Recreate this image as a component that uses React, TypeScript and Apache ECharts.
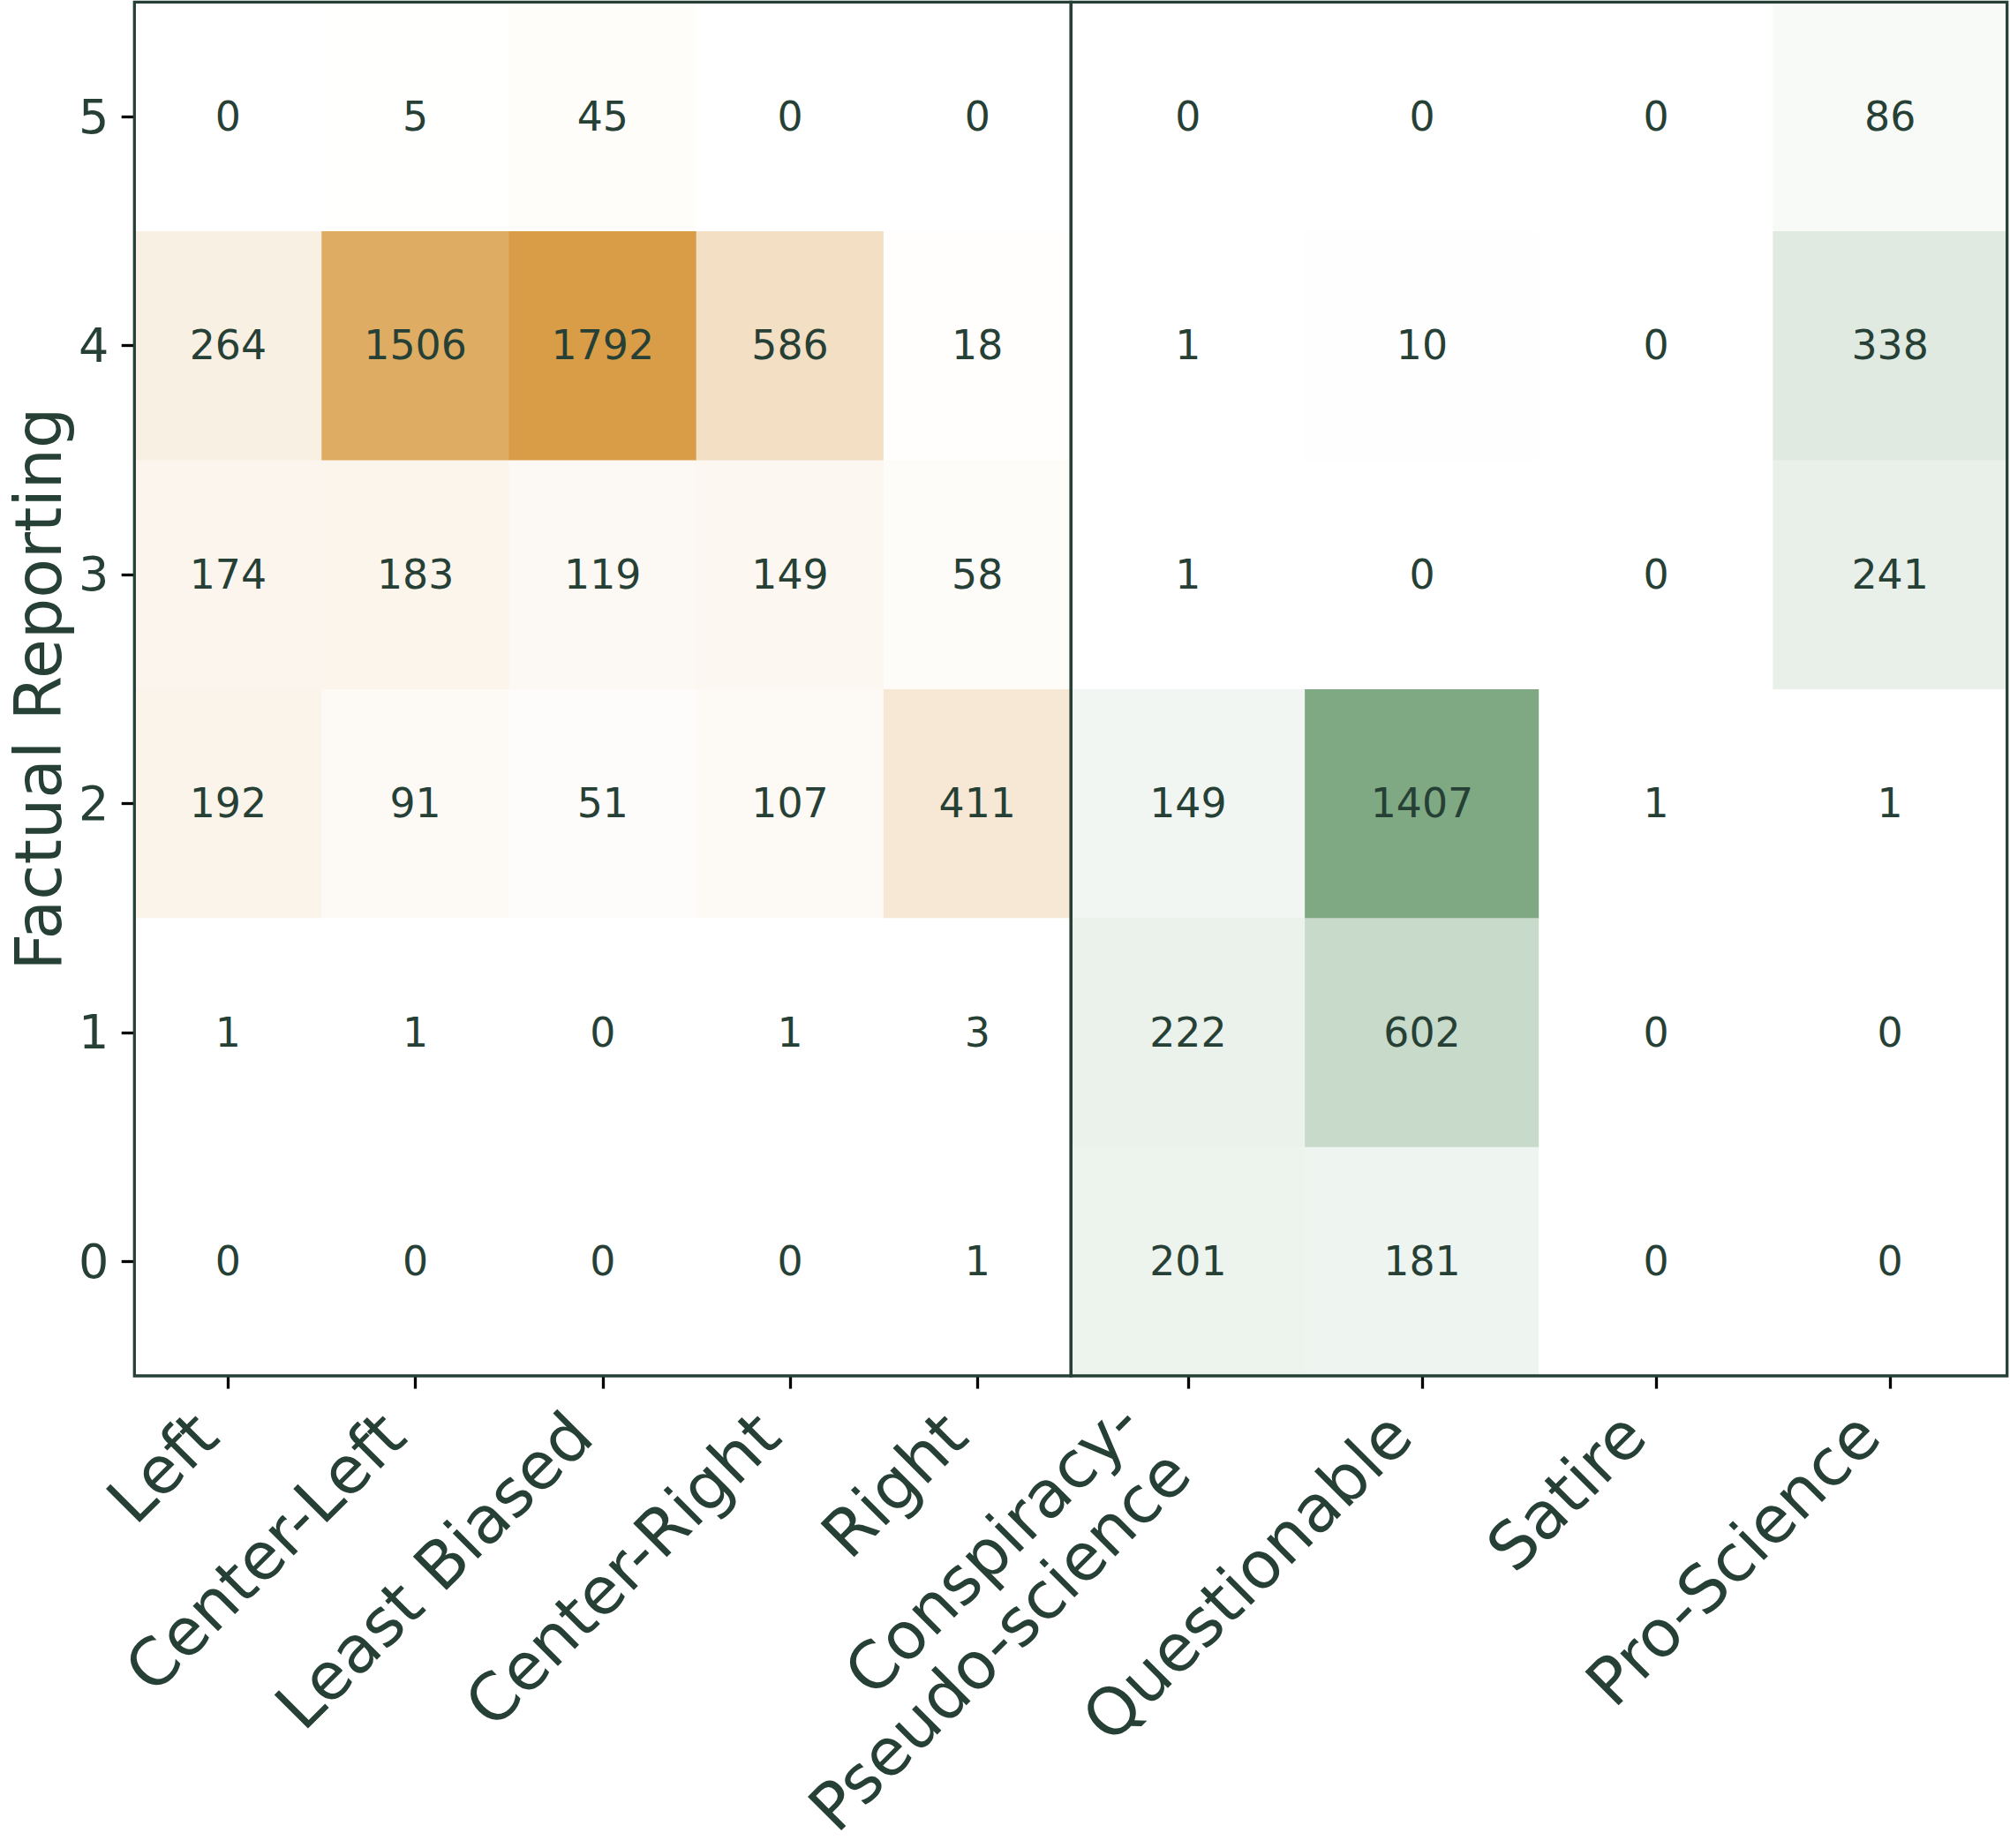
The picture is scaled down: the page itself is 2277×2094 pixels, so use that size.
import React, { useEffect, useRef } from 'react';
import * as echarts from 'echarts';

// Column groups: political bias ratings, then the other source types
const biasCategories = ['Left', 'Center-Left', 'Least Biased', 'Center-Right', 'Right'];
const otherCategories = ['Conspiracy-\nPseudo-science', 'Questionable', 'Satire', 'Pro-Science'];
// Factual reporting levels, bottom (0) to top (5)
const factualLevels = ['0', '1', '2', '3', '4', '5'];

// Source counts, one row per factual level (0 .. 5)
const biasCounts = [
  [0, 0, 0, 0, 1],
  [1, 1, 0, 1, 3],
  [192, 91, 51, 107, 411],
  [174, 183, 119, 149, 58],
  [264, 1506, 1792, 586, 18],
  [0, 5, 45, 0, 0],
];
const otherCounts = [
  [201, 181, 0, 0],
  [222, 602, 0, 0],
  [149, 1407, 1, 1],
  [1, 0, 0, 241],
  [1, 10, 0, 338],
  [0, 0, 0, 86],
];

const INK = '#264036';
const FONT = 'DejaVu Sans';
const W = 2277;
const H = 2094;

function toCells(rows: number[][]): [number, number, number][] {
  const out: [number, number, number][] = [];
  rows.forEach((row, y) => row.forEach((v, x) => out.push([x, y, v])));
  return out;
}

export default function App() {
  const ref = useRef<HTMLDivElement>(null);

  useEffect(() => {
    if (!ref.current) return;
    const chart = echarts.init(ref.current, undefined, { renderer: 'svg' });

    const biasData = toCells(biasCounts);
    const otherData = toCells(otherCounts);
    const biasMax = Math.max(...biasData.map((d) => d[2]));
    const otherMax = Math.max(...otherData.map((d) => d[2]));

    const plotLeft = 152.3;
    const plotRight = 2273.7;
    const plotTop = 2.3;
    const plotBottom = 1559;
    const split = 1213.3;

    const tick = { show: true, alignWithLabel: true, length: 14.6, lineStyle: { color: '#000', width: 3.3 } };
    const xLabelSize = 74;
    const xLabel = {
      interval: 0,
      rotate: 45,
      margin: 29,
      color: INK,
      fontFamily: FONT,
      fontSize: xLabelSize,
      formatter: (v: string) => (v.indexOf('\n') >= 0 ? `{d|${v}}` : `{s|${v}}`),
      rich: {
        s: { fontSize: xLabelSize, fontFamily: FONT, color: INK, lineHeight: 74, padding: [0, 36, 0, 0] },
        d: { fontSize: xLabelSize, fontFamily: FONT, color: INK, lineHeight: 80, padding: [0, 56, 0, 0] },
      },
    };
    const gridBase = {
      top: plotTop,
      height: plotBottom - plotTop,
      show: true,
      borderColor: INK,
      borderWidth: 3.3,
      backgroundColor: 'transparent',
      containLabel: false,
      outerBoundsMode: 'none',
      z: 10,
    };
    const cellLabel = {
      show: true,
      fontSize: 45.8,
      color: INK,
      fontFamily: FONT,
      formatter: (p: any) => String(p.value[2]),
    };

    chart.setOption({
      animation: false,
      backgroundColor: '#ffffff',
      grid: [
        { ...gridBase, left: plotLeft, width: split - plotLeft },
        { ...gridBase, left: split, width: plotRight - split },
      ],
      xAxis: [
        {
          type: 'category',
          gridIndex: 0,
          data: biasCategories,
          axisLine: { show: false },
          axisTick: tick,
          axisLabel: xLabel,
          splitLine: { show: false },
        },
        {
          type: 'category',
          gridIndex: 1,
          data: otherCategories,
          axisLine: { show: false },
          axisTick: tick,
          axisLabel: xLabel,
          splitLine: { show: false },
        },
      ],
      yAxis: [
        {
          type: 'category',
          gridIndex: 0,
          data: factualLevels,
          axisLine: { show: false },
          axisTick: tick,
          axisLabel: { margin: 29, fontSize: 54, color: INK, fontFamily: FONT },
          splitLine: { show: false },
          name: 'Factual Reporting',
          nameLocation: 'middle',
          nameRotate: 90,
          nameGap: 72,
          nameTextStyle: { fontSize: 73, color: INK, fontFamily: FONT },
        },
        {
          type: 'category',
          gridIndex: 1,
          data: factualLevels,
          show: false,
        },
      ],
      visualMap: [
        {
          type: 'continuous',
          show: false,
          seriesIndex: 0,
          dimension: 2,
          min: 0,
          max: biasMax,
          inRange: { color: ['#ffffff', '#D99C47'] },
        },
        {
          type: 'continuous',
          show: false,
          seriesIndex: 1,
          dimension: 2,
          min: 0,
          max: otherMax,
          inRange: { color: ['#ffffff', '#7EA982'] },
        },
      ],
      series: [
        {
          type: 'heatmap',
          xAxisIndex: 0,
          yAxisIndex: 0,
          data: biasData,
          label: cellLabel,
          emphasis: { disabled: true },
        },
        {
          type: 'heatmap',
          xAxisIndex: 1,
          yAxisIndex: 1,
          data: otherData,
          label: cellLabel,
          emphasis: { disabled: true },
        },
      ],
    });

    return () => chart.dispose();
  }, []);

  return (
    <div
      ref={ref}
      style={{ position: 'fixed', left: 0, top: 0, width: W, height: H, background: '#fff' }}
    />
  );
}
